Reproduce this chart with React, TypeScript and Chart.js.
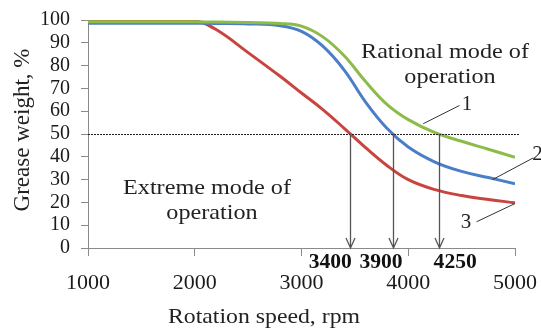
import React, { useEffect, useRef } from "react";
import { Chart, registerables } from "chart.js";

Chart.register(...registerables);

const rpm = [1000, 1500, 2000, 2200, 2500, 2800, 3000, 3200, 3400, 3600, 3800, 4000, 4250, 4500, 4750, 5000];
const curve1 = [99.2, 99.2, 99.2, 99.1, 98.9, 98.5, 97.3, 92.6, 84.3, 73.0, 63.0, 56.3, 50.6, 46.8, 43.3, 39.8];
const curve2 = [98.6, 98.6, 98.6, 98.5, 98.3, 97.5, 95.0, 88.5, 78.0, 64.0, 52.5, 44.3, 37.7, 33.6, 30.9, 28.2];
const curve3 = [100, 100, 99.6, 95.8, 85.7, 75.3, 68.0, 60.7, 52.5, 44.0, 36.2, 30.0, 25.6, 23.0, 21.3, 19.8];

const thresholdLevel = 50;
const arrowRpm = [3455, 3860, 4290];
const arrowLabels = ["3400", "3900", "4250"];
const arrowLabelRpm = [3270, 3745, 4440];

const xTicks = [1000, 2000, 3000, 4000, 5000];

const FONT = "'Liberation Serif', 'Times New Roman', serif";

function stretchedText(ctx: CanvasRenderingContext2D, text: string, x: number, y: number, sx: number) {
  ctx.save();
  ctx.translate(x, y);
  ctx.scale(sx, 1);
  ctx.fillText(text, 0, 0);
  ctx.restore();
}

export default function App() {
  const ref = useRef<HTMLCanvasElement | null>(null);

  useEffect(() => {
    const canvas = ref.current;
    if (!canvas) return;

    const overlay = {
      id: "overlay",
      afterDraw(chart: any) {
        const ctx = chart.ctx as CanvasRenderingContext2D;
        const xs = chart.scales.x;
        const ys = chart.scales.y;
        const y50 = ys.getPixelForValue(thresholdLevel);
        const y0 = ys.getPixelForValue(0);
        ctx.save();
        // dashed threshold line
        ctx.strokeStyle = "#222";
        ctx.lineWidth = 1;
        ctx.setLineDash([2, 1]);
        ctx.beginPath();
        ctx.moveTo(xs.left, Math.round(y50) + 0.5);
        ctx.lineTo(xs.right + 5, Math.round(y50) + 0.5);
        ctx.stroke();
        ctx.setLineDash([]);

        // arrows
        ctx.strokeStyle = "#555";
        ctx.lineWidth = 1.3;
        arrowRpm.forEach((r) => {
          const x = Math.round(xs.getPixelForValue(r)) + 0.5;
          ctx.beginPath();
          ctx.moveTo(x, y50);
          ctx.lineTo(x, y0);
          ctx.moveTo(x - 4.5, y0 - 10);
          ctx.lineTo(x, y0);
          ctx.lineTo(x + 4.5, y0 - 10);
          ctx.stroke();
        });

        // bold labels
        ctx.fillStyle = "#111";
        ctx.font = "bold 20px " + FONT;
        ctx.textAlign = "center";
        ctx.textBaseline = "middle";
        arrowLabels.forEach((t, i) => {
          stretchedText(ctx, t, xs.getPixelForValue(arrowLabelRpm[i]), y0 + 15, 1.08);
        });

        // curve number leaders
        const p = (r: number, v: number) => [xs.getPixelForValue(r), ys.getPixelForValue(v)];
        ctx.strokeStyle = "#333";
        ctx.lineWidth = 1;
        const leaders: [number, number, number, number][] = [
          [4140, 54.5, 4480, 62.5],
          [4790, 30, 5170, 39.5],
          [5000, 19.5, 4640, 11.5],
        ];
        leaders.forEach(([r1, v1, r2, v2]) => {
          const a = p(r1, v1);
          const b = p(r2, v2);
          ctx.beginPath();
          ctx.moveTo(a[0], a[1]);
          ctx.lineTo(b[0], b[1]);
          ctx.stroke();
        });
        ctx.fillStyle = "#222";
        ctx.font = "21px " + FONT;
        ctx.textAlign = "center";
        const n1 = p(4550, 63);
        ctx.fillText("1", n1[0], n1[1]);
        const n2 = p(5210, 41);
        ctx.fillText("2", n2[0], n2[1]);
        const n3 = p(4540, 11);
        ctx.fillText("3", n3[0], n3[1]);

        // region text
        ctx.font = "22px " + FONT;
        ctx.fillStyle = "#222";
        stretchedText(ctx, "Rational mode of", 445, 52, 1.1);
        stretchedText(ctx, "operation", 450, 77, 1.1);
        stretchedText(ctx, "Extreme mode of", 207, 188, 1.1);
        stretchedText(ctx, "operation", 212, 213, 1.1);

        // axis titles
        ctx.font = "22px " + FONT;
        stretchedText(ctx, "Rotation speed, rpm", 264, 317, 1.08);
        ctx.translate(23, 130);
        ctx.rotate(-Math.PI / 2);
        ctx.font = "23px " + FONT;
        ctx.fillText("Grease weight, %", 0, 0);
        ctx.restore();
      },
    };

    const mk = (vals: number[]) => rpm.map((r, i) => ({ x: r, y: vals[i] }));
    const ds = (label: string, vals: number[], color: string) => ({
      label,
      data: mk(vals),
      borderColor: color,
      borderWidth: 3,
      pointRadius: 0,
      tension: 0.4,
    });

    const chart = new Chart(canvas, {
      type: "line",
      data: {
        datasets: [
          ds("1", curve1, "#8DBB4A"),
          ds("2", curve2, "#4A7EC6"),
          ds("3", curve3, "#C8453F"),
        ] as any,
      },
      options: {
        animation: false,
        responsive: false,
        devicePixelRatio: 1,
        layout: { padding: { left: 0, right: 26, top: 20, bottom: 0 } },
        plugins: { legend: { display: false }, tooltip: { enabled: false } },
        scales: {
          x: {
            type: "linear",
            min: 1000,
            max: 5000,
            afterBuildTicks: (s: any) => {
              s.ticks = xTicks.map((v) => ({ value: v }));
            },
            afterFit: (s: any) => {
              s.height = 84;
              s.paddingLeft = 0;
              s.paddingRight = 0;
            },
            grid: { drawOnChartArea: false, drawTicks: true, tickLength: 8, color: "#8a8a8a" },
            border: { color: "#8a8a8a", width: 1 },
            ticks: {
              color: "#1a1a1a",
              padding: 14,
              maxRotation: 0,
              autoSkip: false,
              font: { family: FONT, size: 22 },
              callback: (v: any) => String(v),
            },
          },
          y: {
            min: 0,
            max: 100,
            afterFit: (s: any) => {
              s.width = 88;
              s.paddingTop = 0;
              s.paddingBottom = 0;
            },
            grid: { drawOnChartArea: false, drawTicks: true, tickLength: 7, color: "#8a8a8a" },
            border: { color: "#8a8a8a", width: 1 },
            ticks: { stepSize: 10, autoSkip: false, color: "#1a1a1a", padding: 11, font: { family: FONT, size: 20 } },
          },
        },
      },
      plugins: [overlay],
    });
    return () => chart.destroy();
  }, []);

  return (
    <div style={{ position: "absolute", left: 0, top: 0, width: 541, height: 332, background: "#fff" }}>
      <canvas ref={ref} width={541} height={332} />
    </div>
  );
}
